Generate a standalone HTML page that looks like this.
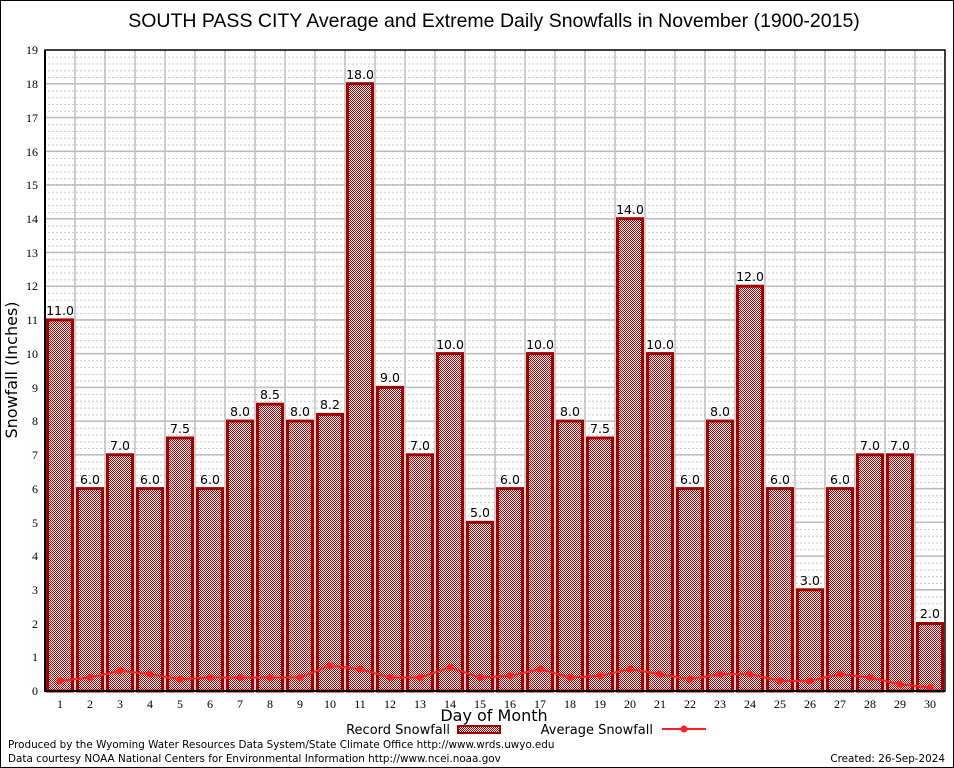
<!DOCTYPE html>
<html><head><meta charset="utf-8"><style>body{margin:0;background:#fff}svg{display:block}</style></head><body>
<svg width="954" height="768" viewBox="0 0 954 768" xmlns="http://www.w3.org/2000/svg" font-family="'DejaVu Sans',sans-serif">
<defs>
<pattern id="ck" width="2" height="2" patternUnits="userSpaceOnUse"><rect width="2" height="2" fill="#fff"/><rect width="1" height="1" fill="#c00000"/><rect x="1" y="1" width="1" height="1" fill="#c00000"/></pattern>
<pattern id="mg" x="0" y="50" width="4" height="6.747" patternUnits="userSpaceOnUse"><rect width="2" height="1" fill="#c8c8c8"/></pattern>
</defs>
<rect width="954" height="768" fill="#fff"/>
<rect x="0.5" y="0.5" width="953" height="767" fill="none" stroke="#000"/>
<text x="494" y="27" font-size="19.5" text-anchor="middle" font-family="'Liberation Sans',sans-serif">SOUTH PASS CITY Average and Extreme Daily Snowfalls in November (1900-2015)</text>
<rect x="45" y="50" width="900" height="641" fill="url(#mg)"/>
<g stroke="#bdbdbd" stroke-width="1.5" fill="none">
<path d="M45 657.3H945M45 623.5H945M45 589.8H945M45 556.1H945M45 522.3H945M45 488.6H945M45 454.8H945M45 421.1H945M45 387.4H945M45 353.6H945M45 319.9H945M45 286.2H945M45 252.4H945M45 218.7H945M45 184.9H945M45 151.2H945M45 117.5H945M45 83.7H945"/>
<path d="M75 50V691M105 50V691M135 50V691M165 50V691M195 50V691M225 50V691M255 50V691M285 50V691M315 50V691M345 50V691M375 50V691M405 50V691M435 50V691M465 50V691M495 50V691M525 50V691M555 50V691M585 50V691M615 50V691M645 50V691M675 50V691M705 50V691M735 50V691M765 50V691M795 50V691M825 50V691M855 50V691M885 50V691M915 50V691"/>
</g>
<g fill="url(#ck)" stroke="#a00000" stroke-width="3">
<rect x="47.5" y="319.9" width="25" height="371.1"/>
<rect x="77.5" y="488.6" width="25" height="202.4"/>
<rect x="107.5" y="454.8" width="25" height="236.2"/>
<rect x="137.5" y="488.6" width="25" height="202.4"/>
<rect x="167.5" y="438" width="25" height="253"/>
<rect x="197.5" y="488.6" width="25" height="202.4"/>
<rect x="227.5" y="421.1" width="25" height="269.9"/>
<rect x="257.5" y="404.2" width="25" height="286.8"/>
<rect x="287.5" y="421.1" width="25" height="269.9"/>
<rect x="317.5" y="414.4" width="25" height="276.6"/>
<rect x="347.5" y="83.7" width="25" height="607.3"/>
<rect x="377.5" y="387.4" width="25" height="303.6"/>
<rect x="407.5" y="454.8" width="25" height="236.2"/>
<rect x="437.5" y="353.6" width="25" height="337.4"/>
<rect x="467.5" y="522.3" width="25" height="168.7"/>
<rect x="497.5" y="488.6" width="25" height="202.4"/>
<rect x="527.5" y="353.6" width="25" height="337.4"/>
<rect x="557.5" y="421.1" width="25" height="269.9"/>
<rect x="587.5" y="438" width="25" height="253"/>
<rect x="617.5" y="218.7" width="25" height="472.3"/>
<rect x="647.5" y="353.6" width="25" height="337.4"/>
<rect x="677.5" y="488.6" width="25" height="202.4"/>
<rect x="707.5" y="421.1" width="25" height="269.9"/>
<rect x="737.5" y="286.2" width="25" height="404.8"/>
<rect x="767.5" y="488.6" width="25" height="202.4"/>
<rect x="797.5" y="589.8" width="25" height="101.2"/>
<rect x="827.5" y="488.6" width="25" height="202.4"/>
<rect x="857.5" y="454.8" width="25" height="236.2"/>
<rect x="887.5" y="454.8" width="25" height="236.2"/>
<rect x="917.5" y="623.5" width="25" height="67.5"/>
</g>
<g font-size="12.5" text-anchor="middle">
<text x="60" y="315">11.0</text><text x="90" y="484">6.0</text><text x="120" y="450">7.0</text><text x="150" y="484">6.0</text><text x="180" y="433">7.5</text><text x="210" y="484">6.0</text><text x="240" y="416">8.0</text><text x="270" y="399">8.5</text><text x="300" y="416">8.0</text><text x="330" y="409">8.2</text><text x="360" y="79">18.0</text><text x="390" y="382">9.0</text><text x="420" y="450">7.0</text><text x="450" y="349">10.0</text><text x="480" y="517">5.0</text><text x="510" y="484">6.0</text><text x="540" y="349">10.0</text><text x="570" y="416">8.0</text><text x="600" y="433">7.5</text><text x="630" y="214">14.0</text><text x="660" y="349">10.0</text><text x="690" y="484">6.0</text><text x="720" y="416">8.0</text><text x="750" y="281">12.0</text><text x="780" y="484">6.0</text><text x="810" y="585">3.0</text><text x="840" y="484">6.0</text><text x="870" y="450">7.0</text><text x="900" y="450">7.0</text><text x="930" y="618">2.0</text>
</g>
<g stroke="#ff2020" stroke-width="2" fill="#ff2020">
<polyline fill="none" points="60,680.9 90,677.5 120,670.8 150,674.1 180,679.2 210,677.5 240,677.5 270,677.5 300,677.5 330,665.7 360,669.1 390,677.5 420,677.5 450,667.4 480,677.5 510,675.8 540,669.1 570,677.5 600,675.8 630,669.1 660,674.1 690,679.2 720,674.1 750,674.1 780,680.9 810,680.9 840,674.1 870,677.5 900,684.3 930,687.6"/>
<g stroke="none"><circle cx="60" cy="680.9" r="3.5"/><circle cx="90" cy="677.5" r="3.5"/><circle cx="120" cy="670.8" r="3.5"/><circle cx="150" cy="674.1" r="3.5"/><circle cx="180" cy="679.2" r="3.5"/><circle cx="210" cy="677.5" r="3.5"/><circle cx="240" cy="677.5" r="3.5"/><circle cx="270" cy="677.5" r="3.5"/><circle cx="300" cy="677.5" r="3.5"/><circle cx="330" cy="665.7" r="3.5"/><circle cx="360" cy="669.1" r="3.5"/><circle cx="390" cy="677.5" r="3.5"/><circle cx="420" cy="677.5" r="3.5"/><circle cx="450" cy="667.4" r="3.5"/><circle cx="480" cy="677.5" r="3.5"/><circle cx="510" cy="675.8" r="3.5"/><circle cx="540" cy="669.1" r="3.5"/><circle cx="570" cy="677.5" r="3.5"/><circle cx="600" cy="675.8" r="3.5"/><circle cx="630" cy="669.1" r="3.5"/><circle cx="660" cy="674.1" r="3.5"/><circle cx="690" cy="679.2" r="3.5"/><circle cx="720" cy="674.1" r="3.5"/><circle cx="750" cy="674.1" r="3.5"/><circle cx="780" cy="680.9" r="3.5"/><circle cx="810" cy="680.9" r="3.5"/><circle cx="840" cy="674.1" r="3.5"/><circle cx="870" cy="677.5" r="3.5"/><circle cx="900" cy="684.3" r="3.5"/><circle cx="930" cy="687.6" r="3.5"/></g>
</g>
<rect x="45" y="50" width="900" height="641" fill="none" stroke="#000" stroke-width="1.5"/>
<path d="M45 50V691H945" fill="none" stroke="#000" stroke-width="2"/>
<g font-family="'Liberation Serif',serif" font-size="12" text-anchor="end">
<text x="38" y="695">0</text><text x="38" y="661">1</text><text x="38" y="628">2</text><text x="38" y="594">3</text><text x="38" y="560">4</text><text x="38" y="527">5</text><text x="38" y="493">6</text><text x="38" y="459">7</text><text x="38" y="425">8</text><text x="38" y="392">9</text><text x="38" y="358">10</text><text x="38" y="324">11</text><text x="38" y="290">12</text><text x="38" y="257">13</text><text x="38" y="223">14</text><text x="38" y="189">15</text><text x="38" y="156">16</text><text x="38" y="122">17</text><text x="38" y="88">18</text><text x="38" y="54">19</text>
</g>
<g font-family="'Liberation Serif',serif" font-size="12" text-anchor="middle">
<text x="60" y="708">1</text><text x="90" y="708">2</text><text x="120" y="708">3</text><text x="150" y="708">4</text><text x="180" y="708">5</text><text x="210" y="708">6</text><text x="240" y="708">7</text><text x="270" y="708">8</text><text x="300" y="708">9</text><text x="330" y="708">10</text><text x="360" y="708">11</text><text x="390" y="708">12</text><text x="420" y="708">13</text><text x="450" y="708">14</text><text x="480" y="708">15</text><text x="510" y="708">16</text><text x="540" y="708">17</text><text x="570" y="708">18</text><text x="600" y="708">19</text><text x="630" y="708">20</text><text x="660" y="708">21</text><text x="690" y="708">22</text><text x="720" y="708">23</text><text x="750" y="708">24</text><text x="780" y="708">25</text><text x="810" y="708">26</text><text x="840" y="708">27</text><text x="870" y="708">28</text><text x="900" y="708">29</text><text x="930" y="708">30</text>
</g>
<text x="494" y="721" font-size="16" text-anchor="middle">Day of Month</text>
<text transform="translate(17 370) rotate(-90)" font-size="16" text-anchor="middle">Snowfall (Inches)</text>
<text x="450" y="734" font-size="13" text-anchor="end">Record Snowfall</text>
<rect x="458" y="726" width="42" height="7" fill="url(#ck)" stroke="#a00000" stroke-width="2"/>
<text x="653" y="734" font-size="13" text-anchor="end">Average Snowfall</text>
<path d="M662 729H706" stroke="#ff2020" stroke-width="2"/><circle cx="684" cy="729" r="3.5" fill="#ff2020"/>
<text x="8" y="748" font-size="10.4">Produced by the Wyoming Water Resources Data System/State Climate Office http://www.wrds.uwyo.edu</text>
<text x="8" y="762" font-size="10.4">Data courtesy NOAA National Centers for Environmental Information http://www.ncei.noaa.gov</text>
<text x="945" y="762" font-size="10.4" text-anchor="end">Created:  26-Sep-2024</text>
</svg>
</body></html>
